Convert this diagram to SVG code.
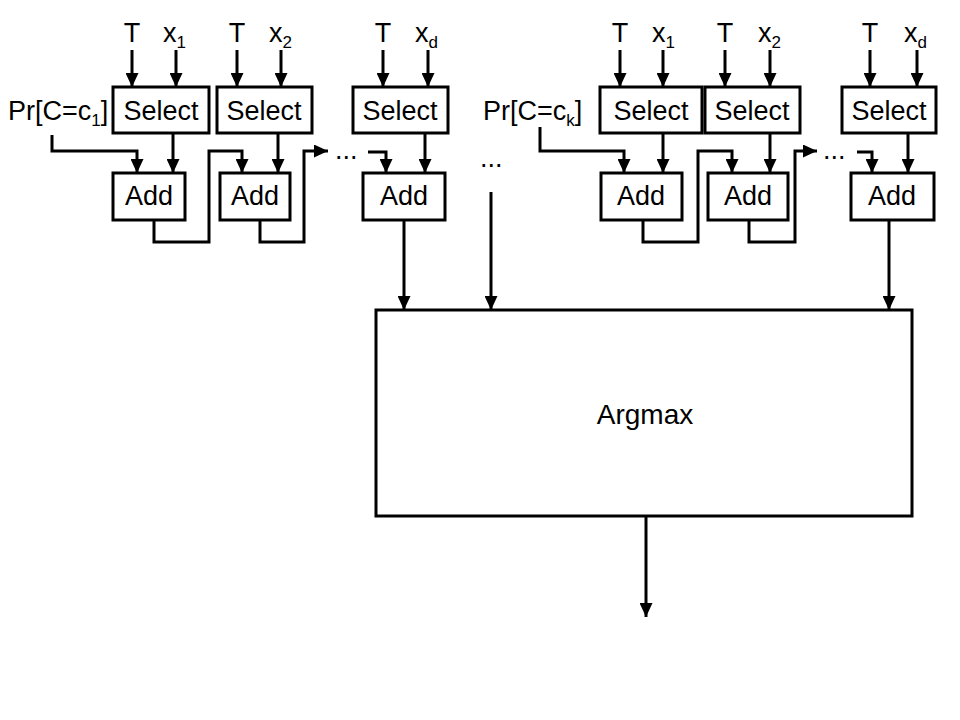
<svg xmlns="http://www.w3.org/2000/svg" width="960" height="720" viewBox="0 0 960 720">
<defs>
<marker id="ah" viewBox="0 0 14 13" refX="14" refY="6.5" markerWidth="14" markerHeight="13" markerUnits="userSpaceOnUse" orient="auto">
<path d="M0,0 L14,6.5 L0,13 z" fill="#000"/>
</marker>
<style>
.box{fill:#fff;stroke:#000;stroke-width:3}
.t{font-family:"Liberation Sans",Arial,sans-serif;font-size:27px;fill:#000}
.c{text-anchor:middle}
.sub{font-size:17px}
.big{font-size:28px}
.w{fill:none;stroke:#000;stroke-width:3}
.a{fill:none;stroke:#000;stroke-width:3;marker-end:url(#ah)}
</style>
</defs>
<rect width="960" height="720" fill="#fff"/>
<g id="connectors">
<line class="a" x1="132" y1="50" x2="132" y2="87"/>
<line class="a" x1="176" y1="50" x2="176" y2="87"/>
<line class="a" x1="237" y1="50" x2="237" y2="87"/>
<line class="a" x1="281" y1="50" x2="281" y2="87"/>
<line class="a" x1="383" y1="50" x2="383" y2="87"/>
<line class="a" x1="428" y1="50" x2="428" y2="87"/>
<line class="a" x1="620" y1="50" x2="620" y2="87"/>
<line class="a" x1="663" y1="50" x2="663" y2="87"/>
<line class="a" x1="725" y1="50" x2="725" y2="87"/>
<line class="a" x1="770" y1="50" x2="770" y2="87"/>
<line class="a" x1="870" y1="50" x2="870" y2="87"/>
<line class="a" x1="917" y1="50" x2="917" y2="87"/>
<line class="a" x1="173" y1="133" x2="173" y2="173"/>
<line class="a" x1="278" y1="133" x2="278" y2="173"/>
<line class="a" x1="425" y1="133" x2="425" y2="173"/>
<line class="a" x1="663" y1="133" x2="663" y2="173"/>
<line class="a" x1="770" y1="133" x2="770" y2="173"/>
<line class="a" x1="908" y1="133" x2="908" y2="173"/>
<path class="a" d="M52,135 V151 H137 V173"/>
<path class="a" d="M540,127 V151 H624 V173"/>
<path class="a" d="M154,220 V242 H209 V151 H242 V173"/>
<path class="a" d="M260,220 V242 H304 V151 H328"/>
<path class="a" d="M368,152 H386 V173"/>
<path class="a" d="M643,220 V242 H698 V151 H732 V173"/>
<path class="a" d="M749,220 V242 H795 V151 H817"/>
<path class="a" d="M857,152 H872 V173"/>
<line class="a" x1="404" y1="220" x2="404" y2="310"/>
<line class="a" x1="491" y1="192" x2="491" y2="310"/>
<line class="a" x1="889" y1="220" x2="889" y2="310"/>
<line class="a" x1="646" y1="516" x2="646" y2="617"/>
</g>
<g id="labels">
<text class="t c" x="132" y="42">T</text>
<text class="t" x="163" y="42">x<tspan class="sub" dy="6">1</tspan></text>
<text class="t c" x="237" y="42">T</text>
<text class="t" x="269" y="42">x<tspan class="sub" dy="6">2</tspan></text>
<text class="t c" x="383" y="42">T</text>
<text class="t" x="415" y="42">x<tspan class="sub" dy="6">d</tspan></text>
<text class="t c" x="620" y="42">T</text>
<text class="t" x="652" y="42">x<tspan class="sub" dy="6">1</tspan></text>
<text class="t c" x="725" y="42">T</text>
<text class="t" x="758" y="42">x<tspan class="sub" dy="6">2</tspan></text>
<text class="t c" x="870" y="42">T</text>
<text class="t" x="904" y="42">x<tspan class="sub" dy="6">d</tspan></text>
<text class="t" x="8" y="120">Pr[C=c<tspan class="sub" dy="6">1</tspan><tspan dy="-6">]</tspan></text>
<text class="t" x="483" y="120">Pr[C=c<tspan class="sub" dy="6">k</tspan><tspan dy="-6">]</tspan></text>
<text class="t" x="335" y="159">...</text>
<text class="t" x="480" y="167">...</text>
<text class="t" x="823" y="159">...</text>
</g>
<g id="select1"><rect class="box" x="113" y="87" width="96" height="46"/><text class="t c" x="161" y="120">Select</text></g>
<g id="select2"><rect class="box" x="217" y="87" width="95" height="46"/><text class="t c" x="264" y="120">Select</text></g>
<g id="select3"><rect class="box" x="353" y="87" width="95" height="46"/><text class="t c" x="400" y="120">Select</text></g>
<g id="select4"><rect class="box" x="600" y="87" width="102" height="46"/><text class="t c" x="651" y="120">Select</text></g>
<g id="select5"><rect class="box" x="705" y="87" width="95" height="46"/><text class="t c" x="752" y="120">Select</text></g>
<g id="select6"><rect class="box" x="842" y="87" width="94" height="46"/><text class="t c" x="889" y="120">Select</text></g>
<g id="add1"><rect class="box" x="113" y="173" width="72" height="47"/><text class="t c" x="149" y="205">Add</text></g>
<g id="add2"><rect class="box" x="220" y="173" width="70" height="47"/><text class="t c" x="255" y="205">Add</text></g>
<g id="add3"><rect class="box" x="363" y="173" width="82" height="47"/><text class="t c" x="404" y="205">Add</text></g>
<g id="add4"><rect class="box" x="601" y="173" width="81" height="47"/><text class="t c" x="641" y="205">Add</text></g>
<g id="add5"><rect class="box" x="708" y="173" width="80" height="47"/><text class="t c" x="748" y="205">Add</text></g>
<g id="add6"><rect class="box" x="851" y="173" width="83" height="47"/><text class="t c" x="892" y="205">Add</text></g>
<g id="argmax"><rect class="box" x="376" y="310" width="536" height="206"/><text class="t c big" x="645" y="424">Argmax</text></g>
</svg>
